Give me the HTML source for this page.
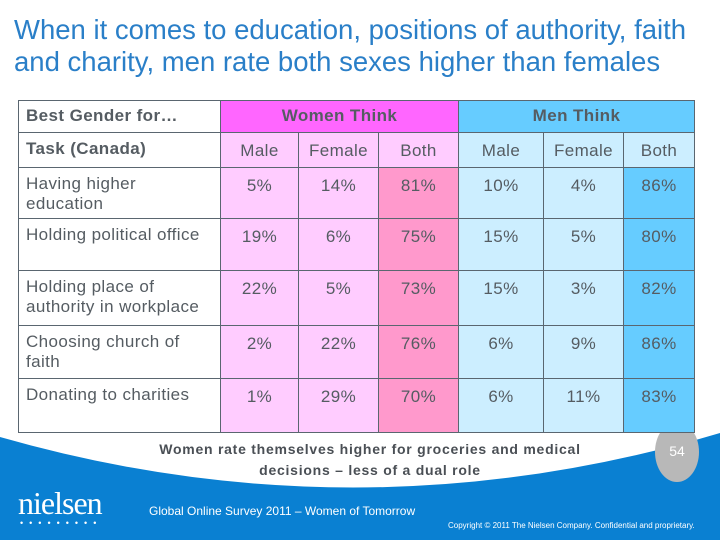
<!DOCTYPE html>
<html><head><meta charset="utf-8">
<style>
body{margin:0;width:720px;height:540px;overflow:hidden;background:#fff;font-family:"Liberation Sans",sans-serif;position:relative}
.t{position:absolute;left:14px;top:14px;font-size:27.5px;line-height:32px;color:#2a7fc8;white-space:nowrap}
#tbl{position:absolute;left:0;top:0;z-index:2}
.c{position:absolute;box-sizing:border-box;border:1px solid #5a6670;color:#555c62;font-size:17px;letter-spacing:0.4px;display:flex;align-items:flex-start;justify-content:center;padding-top:8px}
.l{justify-content:flex-start;padding-left:7px;padding-right:12px;line-height:20px;padding-top:6px}
.b{font-weight:bold}
</style></head><body>
<div class="t">When it comes to education, positions of authority, faith<br>and charity, men rate both sexes higher than females</div>
<div id="tbl"></div>
<svg style="position:absolute;left:0;top:0" width="720" height="540">
<path d="M0,437 Q360,540 720,433 L720,540 L0,540 Z" fill="#0a80d2"/>
</svg>
<div style="position:absolute;left:120px;top:439px;width:500px;text-align:center;font-size:14px;font-weight:bold;color:#4a4f55;line-height:21px;letter-spacing:0.75px;z-index:3">Women rate themselves higher for groceries and medical<br>decisions – less of a dual role</div>
<div style="position:absolute;left:655px;top:422px;width:44px;height:60px;border-radius:50%;background:#b8b8b8;color:#fff;font-size:14px;text-align:center;line-height:58px;z-index:1">54</div>
<div style="position:absolute;left:18px;top:485px;font-family:'Liberation Serif',serif;font-size:32px;color:#fff;letter-spacing:-1px">nielsen</div>
<div style="position:absolute;left:20px;top:518px;font-size:9px;color:#fff;letter-spacing:6px">•••••••••</div>
<div style="position:absolute;left:149px;top:504px;font-size:12px;color:#fff">Global Online Survey 2011 – Women of Tomorrow</div>
<div style="position:absolute;left:448px;top:521px;font-size:8px;color:#fff">Copyright © 2011 The Nielsen Company. Confidential and proprietary.</div>
<script>
const cols=[18,220,298,378,458,543,623,694];
const rows=[100,132,167,218,270,325,378,432];
const tasks=["Having higher education","Holding political office","Holding place of authority in workplace","Choosing church of faith","Donating to charities"];
const womenMale=[5,19,22,2,1];
const womenFemale=[14,6,5,22,29];
const womenBoth=[81,75,73,76,70];
const menMale=[10,15,15,6,6];
const menFemale=[4,5,3,9,11];
const menBoth=[86,80,82,86,83];
const subHeads=["Male","Female","Both","Male","Female","Both"];
const bgs=["#ffccff","#ffccff","#ff99cc","#cceeff","#cceeff","#66ccff"];
const hbg=["#ffccff","#ffccff","#ffccff","#cceeff","#cceeff","#cceeff"];
const series=[womenMale,womenFemale,womenBoth,menMale,menFemale,menBoth];
const tbl=document.getElementById('tbl');
function cell(x0,x1,y0,y1,txt,bg,cls,name){
 const d=document.createElement('div');
 d.className='c '+(cls||'');
 d.style.left=x0+'px';d.style.top=y0+'px';d.style.width=(x1-x0+1)+'px';d.style.height=(y1-y0+1)+'px';
 d.style.background=bg;d.textContent=txt;
 
 
 tbl.appendChild(d);return d;
}
cell(cols[0],cols[1],rows[0],rows[1],"Best Gender for…","#fff","l b","best-gender-header").style.paddingTop='5px';
cell(cols[1],cols[4],rows[0],rows[1],"Women Think","#ff66ff","b","women-think-header").style.paddingTop='5px';
cell(cols[4],cols[7],rows[0],rows[1],"Men Think","#66ccff","b","men-think-header").style.paddingTop='5px';
cell(cols[0],cols[1],rows[1],rows[2],"Task (Canada)","#fff","l b","task-header");
subHeads.forEach((h,i)=>cell(cols[i+1],cols[i+2],rows[1],rows[2],h,hbg[i],"","sub-header-"+h.toLowerCase()));
tasks.forEach((t,r)=>{
 cell(cols[0],cols[1],rows[r+2],rows[r+3],t,"#fff","l","task-label");
 series.forEach((s,i)=>cell(cols[i+1],cols[i+2],rows[r+2],rows[r+3],s[r]+"%",bgs[i],"","value-cell"));
});
</script>
</body></html>
